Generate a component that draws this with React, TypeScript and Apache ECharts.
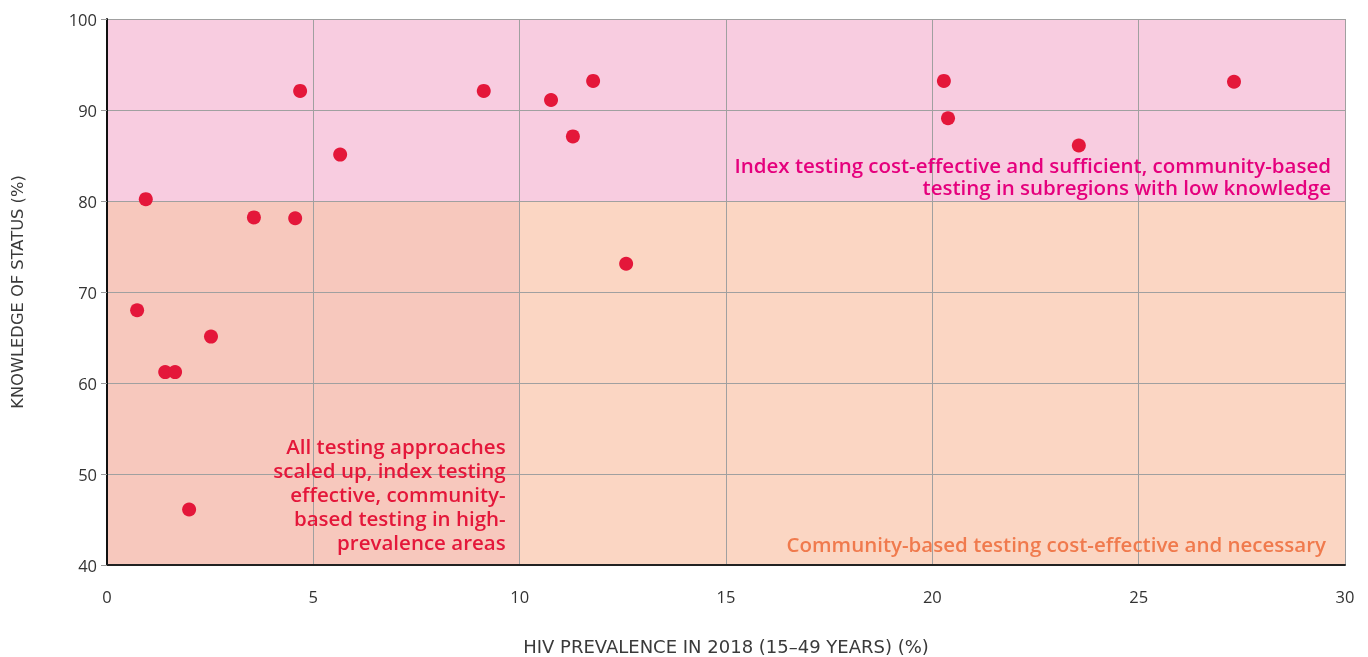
import React, { useEffect, useRef } from "react";
import * as echarts from "echarts";

const prevalence = [0.73, 0.94, 1.41, 1.65, 1.99, 2.52, 3.56, 4.56, 4.68, 5.65, 9.13, 10.76, 11.29, 11.78, 12.58, 20.28, 20.38, 23.55, 27.31];
const knowledge = [68, 80.2, 61.2, 61.2, 46.1, 65.1, 78.2, 78.1, 92.1, 85.1, 92.1, 91.1, 87.1, 93.2, 73.1, 93.2, 89.1, 86.1, 93.1];

const xTicks = [0, 5, 10, 15, 20, 25, 30];
const yTicks = [40, 50, 60, 70, 80, 90, 100];

const xName = "HIV PREVALENCE IN 2018 (15–49 YEARS) (%)";
const yName = "KNOWLEDGE OF STATUS (%)";

const zoneHigh = "Index testing cost-effective and sufficient, community-based\ntesting in subregions with low knowledge";
const zoneLow = "All testing approaches\nscaled up, index testing\neffective, community-\nbased testing in high-\nprevalence areas";
const zoneMid = "Community-based testing cost-effective and necessary";

const FONT = "'Open Sans', Lato, sans-serif";
const NAME_FONT = "'DejaVu Sans', 'Open Sans', sans-serif";

export default function App() {
  const ref = useRef<HTMLDivElement>(null);
  useEffect(() => {
    if (!ref.current) return;
    const chart = echarts.init(ref.current, undefined, { renderer: "svg" });
    const axisLabel = { color: "#333", fontSize: 16.5, fontFamily: FONT };
    chart.setOption({
      animation: false,
      grid: { left: 107, right: 23, top: 19, bottom: 92, outerBoundsMode: "none", containLabel: false },
      xAxis: {
        type: "value",
        min: xTicks[0],
        max: xTicks[xTicks.length - 1],
        interval: 5,
        z: 3,
        name: xName,
        nameLocation: "middle",
        nameGap: 72,
        nameTextStyle: { color: "#3a3a3a", fontSize: 18, fontFamily: NAME_FONT },
        axisLine: { show: true, onZero: false, lineStyle: { color: "#222", width: 2 } },
        axisTick: { show: false },
        axisLabel: { ...axisLabel, margin: 23 },
        splitLine: { show: true, lineStyle: { color: "#a0a0a0", width: 1 } },
      },
      yAxis: {
        type: "value",
        min: yTicks[0],
        max: yTicks[yTicks.length - 1],
        interval: 10,
        z: 3,
        name: yName,
        nameLocation: "middle",
        nameGap: 82,
        nameTextStyle: { color: "#3a3a3a", fontSize: 16.3, fontFamily: NAME_FONT },
        axisLine: { show: true, onZero: false, lineStyle: { color: "#111", width: 2 } },
        axisTick: { show: true, length: 6, lineStyle: { color: "#999" } },
        axisLabel: { ...axisLabel, margin: 10 },
        splitLine: { show: true, lineStyle: { color: "#a0a0a0", width: 1 } },
      },
      series: [
        {
          type: "scatter",
          z: 1,
          data: [],
          markArea: {
            silent: true,
            label: { show: false },
            data: [
              [{ coord: [0, 80], itemStyle: { color: "#F8CCE0" } }, { coord: [30, 100] }],
              [{ coord: [0, 40], itemStyle: { color: "#F7C8BD" } }, { coord: [10, 80] }],
              [{ coord: [10, 40], itemStyle: { color: "#FBD6C3" } }, { coord: [30, 80] }],
            ],
          },
        },
        {
          type: "scatter",
          z: 5,
          symbolSize: 14,
          itemStyle: { color: "#E4173A", opacity: 1 },
          data: prevalence.map((p, i) => [p, knowledge[i]]),
        },
      ],
    });
    const px = (x: number, y: number) => chart.convertToPixel({ gridIndex: 0 }, [x, y]) as number[];
    const pHigh = px(30, 80);
    const pLow = px(10, 40);
    const pMid = px(30, 40);
    const textStyle = { fontSize: 20.5, fontWeight: 600, fontFamily: FONT, align: "right", verticalAlign: "bottom" };
    chart.setOption({
      graphic: [
        {
          type: "text",
          x: pHigh[0] - 14,
          y: pHigh[1] - 3,
          z: 10,
          style: { ...textStyle, text: zoneHigh, fill: "#E5007D", lineHeight: 22 },
        },
        {
          type: "text",
          x: pLow[0] - 14,
          y: pLow[1] - 11,
          z: 10,
          style: { ...textStyle, text: zoneLow, fill: "#E4173A", lineHeight: 24 },
        },
        {
          type: "text",
          x: pMid[0] - 19,
          y: pMid[1] - 11,
          z: 10,
          style: { ...textStyle, text: zoneMid, fill: "#F07A4D" },
        },
      ],
    });
    return () => chart.dispose();
  }, []);
  return (
    <div
      ref={ref}
      style={{ position: "fixed", left: 0, top: 0, width: 1368, height: 657 }}
    />
  );
}
